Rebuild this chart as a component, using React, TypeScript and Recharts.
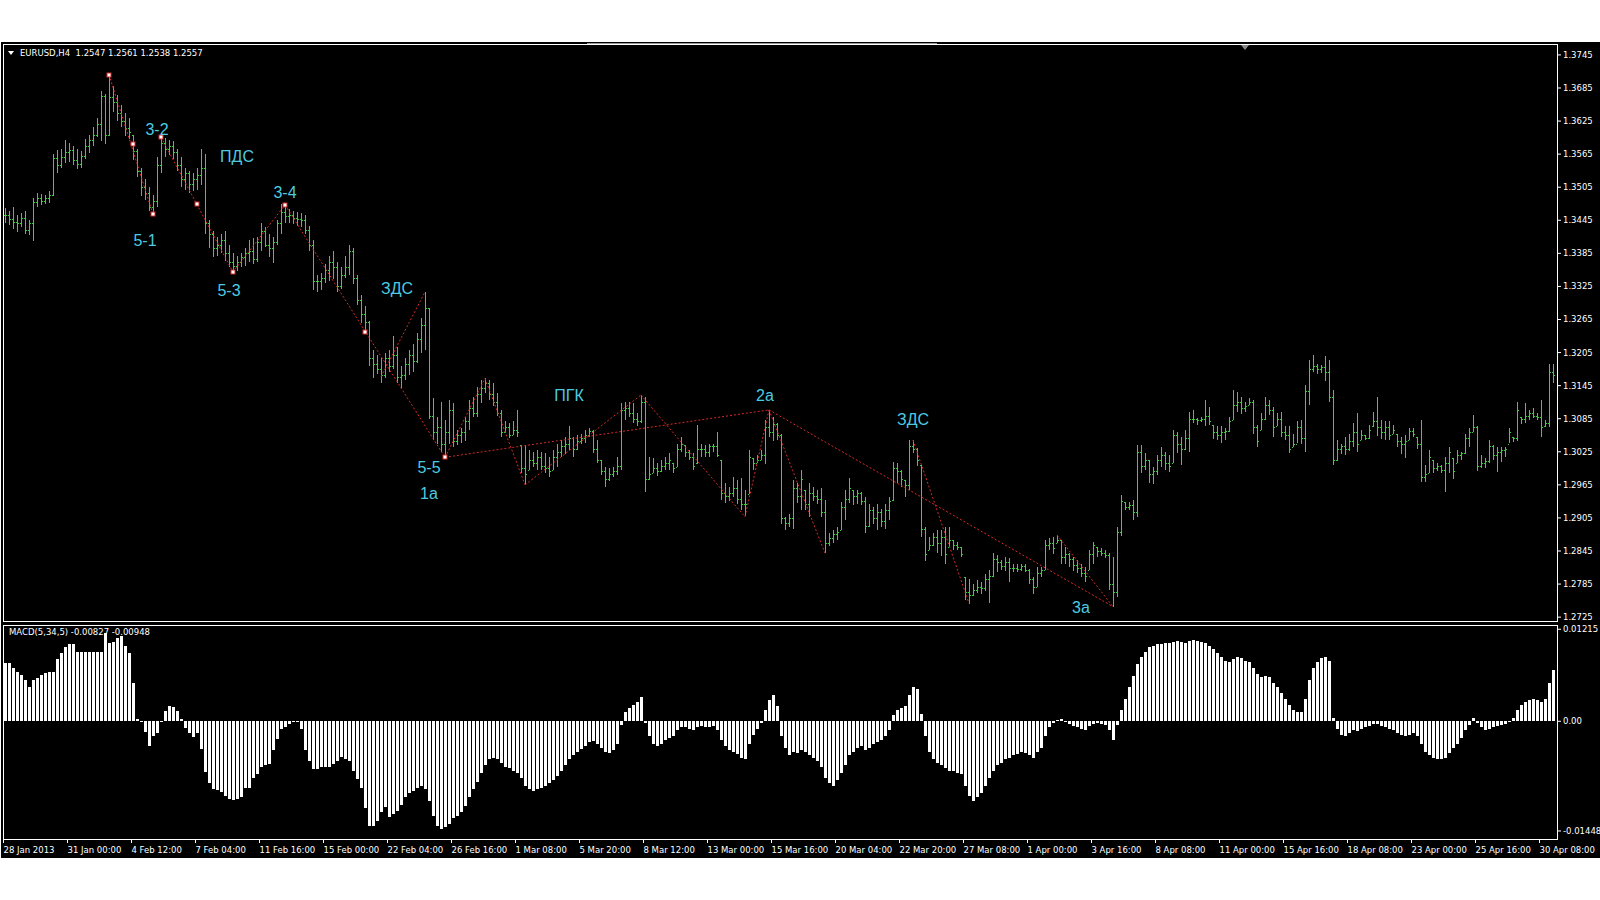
import { ComposedChart, Bar, XAxis, YAxis, ReferenceLine, ReferenceDot } from "recharts";

// EURUSD H4, 28 Jan – 30 Apr 2013, one entry per bar
const HIGHS = [
  1.3468, 1.3462, 1.3470, 1.3455, 1.3458, 1.3462, 1.3445, 1.3486, 1.3495, 1.3492,
  1.3490, 1.3498, 1.3565, 1.3572, 1.3575, 1.3590, 1.3585, 1.3580, 1.3575, 1.3570,
  1.3592, 1.3600, 1.3615, 1.3630, 1.3680, 1.3675, 1.3710, 1.3688, 1.3672, 1.3655,
  1.3640, 1.3630, 1.3600, 1.3575, 1.3540, 1.3520, 1.3505, 1.3490, 1.3560, 1.3598,
  1.3595, 1.3590, 1.3588, 1.3575, 1.3560, 1.3540, 1.3535, 1.3530, 1.3540, 1.3575,
  1.3565, 1.3445, 1.3425, 1.3415, 1.3420, 1.3425, 1.3400, 1.3385, 1.3380, 1.3385,
  1.3395, 1.3410, 1.3412, 1.3415, 1.3440, 1.3432, 1.3420, 1.3415, 1.3445, 1.3475,
  1.3474, 1.3465, 1.3462, 1.3460, 1.3458, 1.3455, 1.3435, 1.3410, 1.3345, 1.3350,
  1.3365, 1.3380, 1.3390, 1.3370, 1.3360, 1.3380, 1.3400, 1.3395, 1.3345, 1.3310,
  1.3290, 1.3262, 1.3210, 1.3200, 1.3195, 1.3205, 1.3210, 1.3235, 1.3215, 1.3180,
  1.3195, 1.3210, 1.3220, 1.3240, 1.3267, 1.3315, 1.3285, 1.3122, 1.3089, 1.3116,
  1.3083, 1.3119, 1.3113, 1.3064, 1.3068, 1.3089, 1.3119, 1.3125, 1.3143, 1.3155,
  1.3158, 1.3155, 1.3149, 1.3131, 1.3101, 1.3080, 1.3077, 1.3080, 1.3101, 1.3037,
  1.3037, 1.3028, 1.3025, 1.3028, 1.3025, 1.3022, 1.3016, 1.3028, 1.3040, 1.3046,
  1.3052, 1.3071, 1.3052, 1.3055, 1.3058, 1.3064, 1.3068, 1.3064, 1.3046, 1.3010,
  1.2998, 1.2995, 1.2998, 1.3016, 1.3113, 1.3116, 1.3116, 1.3113, 1.3095, 1.3128,
  1.3125, 1.3016, 1.3013, 1.3004, 1.3010, 1.3016, 1.3022, 1.3004, 1.3040, 1.3052,
  1.3037, 1.3028, 1.3022, 1.3074, 1.3040, 1.3037, 1.3040, 1.3040, 1.3061, 1.3010,
  1.2968, 1.2962, 1.2980, 1.2974, 1.2977, 1.2955, 1.3028, 1.3013, 1.3019, 1.3028,
  1.3083, 1.3101, 1.3089, 1.3077, 1.3058, 1.2907, 1.2913, 1.2974, 1.2968, 1.2992,
  1.2956, 1.2968, 1.2962, 1.2956, 1.2959, 1.2937, 1.2877, 1.2883, 1.2889, 1.2934,
  1.2956, 1.2977, 1.2956, 1.2956, 1.2952, 1.2943, 1.2931, 1.2925, 1.2931, 1.2922,
  1.2931, 1.2943, 1.3007, 1.3004, 1.2992, 1.2974, 1.3046, 1.3046, 1.3031, 1.3001,
  1.2889, 1.2871, 1.2877, 1.2883, 1.2883, 1.2889, 1.2889, 1.2865, 1.2862, 1.2853,
  1.2798, 1.2795, 1.2786, 1.2792, 1.2789, 1.2804, 1.2810, 1.2841, 1.2838, 1.2828,
  1.2835, 1.2832, 1.2822, 1.2822, 1.2822, 1.2822, 1.2813, 1.2798, 1.2816, 1.2816,
  1.2865, 1.2868, 1.2871, 1.2874, 1.2865, 1.2853, 1.2841, 1.2835, 1.2828, 1.2822,
  1.2816, 1.2847, 1.2862, 1.2853, 1.2850, 1.2847, 1.2841, 1.2835, 1.2889, 1.2946,
  1.2934, 1.2934, 1.2937, 1.3037, 1.3037, 1.3022, 1.3010, 1.2998, 1.3019, 1.3034,
  1.3025, 1.3019, 1.3064, 1.3061, 1.3052, 1.3064, 1.3098, 1.3101, 1.3086, 1.3089,
  1.3119, 1.3107, 1.3074, 1.3071, 1.3071, 1.3068, 1.3089, 1.3137, 1.3134, 1.3125,
  1.3116, 1.3122, 1.3119, 1.3074, 1.3095, 1.3125, 1.3119, 1.3107, 1.3095, 1.3098,
  1.3071, 1.3071, 1.3058, 1.3080, 1.3083, 1.3146, 1.3192, 1.3201, 1.3185, 1.3182,
  1.3198, 1.3192, 1.3137, 1.3046, 1.3040, 1.3052, 1.3058, 1.3077, 1.3095, 1.3064,
  1.3055, 1.3074, 1.3098, 1.3125, 1.3083, 1.3080, 1.3080, 1.3074, 1.3058, 1.3052,
  1.3055, 1.3068, 1.3068, 1.3052, 1.3083, 1.3001, 1.3028, 1.3010, 1.3004, 1.3001,
  1.3016, 1.3034, 1.3013, 1.3028, 1.3025, 1.3058, 1.3068, 1.3092, 1.3071, 1.3019,
  1.3013, 1.3046, 1.3037, 1.3034, 1.3034, 1.3034, 1.3068, 1.3052, 1.3116, 1.3089,
  1.3113, 1.3101, 1.3104, 1.3095, 1.3119, 1.3083, 1.3185, 1.3185,
];

const LOWS = [
  1.3440, 1.3436, 1.3430, 1.3425, 1.3432, 1.3420, 1.3418, 1.3408, 1.3470, 1.3472,
  1.3474, 1.3476, 1.3488, 1.3530, 1.3540, 1.3548, 1.3550, 1.3545, 1.3538, 1.3540,
  1.3555, 1.3568, 1.3580, 1.3595, 1.3590, 1.3585, 1.3598, 1.3640, 1.3625, 1.3615,
  1.3598, 1.3592, 1.3555, 1.3525, 1.3490, 1.3482, 1.3462, 1.3455, 1.3470, 1.3530,
  1.3560, 1.3562, 1.3555, 1.3535, 1.3505, 1.3500, 1.3495, 1.3498, 1.3500, 1.3510,
  1.3420, 1.3395, 1.3378, 1.3380, 1.3385, 1.3370, 1.3360, 1.3350, 1.3352, 1.3360,
  1.3362, 1.3370, 1.3365, 1.3370, 1.3390, 1.3395, 1.3378, 1.3368, 1.3400, 1.3420,
  1.3440, 1.3440, 1.3438, 1.3435, 1.3432, 1.3420, 1.3390, 1.3320, 1.3315, 1.3320,
  1.3330, 1.3335, 1.3340, 1.3315, 1.3320, 1.3340, 1.3345, 1.3330, 1.3290, 1.3260,
  1.3240, 1.3180, 1.3160, 1.3165, 1.3150, 1.3160, 1.3170, 1.3175, 1.3150, 1.3140,
  1.3155, 1.3165, 1.3170, 1.3185, 1.3204, 1.3210, 1.3083, 1.3046, 1.3040, 1.3025,
  1.3016, 1.3040, 1.3034, 1.3037, 1.3040, 1.3046, 1.3064, 1.3089, 1.3089, 1.3113,
  1.3131, 1.3119, 1.3107, 1.3089, 1.3052, 1.3058, 1.3049, 1.3055, 1.3052, 1.2986,
  1.2965, 1.2992, 1.2998, 1.2992, 1.2992, 1.2986, 1.2980, 1.2992, 1.2998, 1.3016,
  1.3022, 1.3028, 1.3016, 1.3028, 1.3040, 1.3040, 1.3052, 1.3022, 1.3004, 1.2983,
  1.2962, 1.2971, 1.2980, 1.2983, 1.2992, 1.3083, 1.3089, 1.3077, 1.3071, 1.3077,
  1.2952, 1.2974, 1.2986, 1.2980, 1.2989, 1.2992, 1.2992, 1.2986, 1.2998, 1.3025,
  1.3016, 1.3010, 1.2992, 1.3004, 1.3016, 1.3016, 1.3016, 1.3025, 1.3016, 1.2937,
  1.2931, 1.2937, 1.2943, 1.2931, 1.2919, 1.2907, 1.2949, 1.2992, 1.3004, 1.3010,
  1.3004, 1.3052, 1.3046, 1.3046, 1.2895, 1.2883, 1.2889, 1.2886, 1.2931, 1.2919,
  1.2919, 1.2907, 1.2937, 1.2931, 1.2907, 1.2841, 1.2853, 1.2859, 1.2865, 1.2883,
  1.2901, 1.2931, 1.2928, 1.2931, 1.2928, 1.2877, 1.2889, 1.2895, 1.2883, 1.2889,
  1.2886, 1.2901, 1.2937, 1.2968, 1.2962, 1.2943, 1.2956, 1.3022, 1.2998, 1.2871,
  1.2828, 1.2847, 1.2853, 1.2841, 1.2835, 1.2822, 1.2853, 1.2847, 1.2847, 1.2835,
  1.2756, 1.2750, 1.2765, 1.2768, 1.2768, 1.2774, 1.2750, 1.2798, 1.2807, 1.2810,
  1.2810, 1.2789, 1.2807, 1.2807, 1.2810, 1.2807, 1.2786, 1.2768, 1.2780, 1.2798,
  1.2810, 1.2847, 1.2841, 1.2859, 1.2822, 1.2822, 1.2816, 1.2810, 1.2804, 1.2798,
  1.2789, 1.2810, 1.2822, 1.2835, 1.2835, 1.2832, 1.2774, 1.2744, 1.2762, 1.2871,
  1.2919, 1.2919, 1.2901, 1.2907, 1.2986, 1.2992, 1.2968, 1.2968, 1.2983, 1.2998,
  1.2992, 1.2989, 1.3004, 1.3022, 1.3001, 1.3028, 1.3025, 1.3077, 1.3074, 1.3080,
  1.3071, 1.3074, 1.3049, 1.3046, 1.3040, 1.3046, 1.3061, 1.3083, 1.3098, 1.3095,
  1.3098, 1.3110, 1.3058, 1.3034, 1.3064, 1.3083, 1.3092, 1.3052, 1.3071, 1.3052,
  1.3046, 1.3022, 1.3034, 1.3040, 1.3040, 1.3025, 1.3110, 1.3170, 1.3167, 1.3167,
  1.3152, 1.3116, 1.3001, 1.3007, 1.3022, 1.3019, 1.3028, 1.3034, 1.3025, 1.3046,
  1.3046, 1.3049, 1.3071, 1.3055, 1.3049, 1.3046, 1.3046, 1.3058, 1.3034, 1.3022,
  1.3013, 1.3046, 1.3052, 1.3031, 1.2971, 1.2971, 1.2986, 1.2986, 1.2989, 1.2986,
  1.2953, 1.2986, 1.2974, 1.3004, 1.3010, 1.3022, 1.3034, 1.3061, 1.2989, 1.2995,
  1.2995, 1.3004, 1.3010, 1.2989, 1.3007, 1.3016, 1.3040, 1.3043, 1.3046, 1.3077,
  1.3077, 1.3083, 1.3086, 1.3083, 1.3052, 1.3071, 1.3071, 1.3150,
];

const CLOSES = [
  1.3455, 1.3448, 1.3442, 1.3440, 1.3450, 1.3428, 1.3440, 1.3478, 1.3485, 1.3480,
  1.3486, 1.3490, 1.3558, 1.3545, 1.3560, 1.3568, 1.3572, 1.3555, 1.3548, 1.3562,
  1.3580, 1.3590, 1.3600, 1.3620, 1.3670, 1.3600, 1.3668, 1.3660, 1.3640, 1.3625,
  1.3612, 1.3605, 1.3570, 1.3535, 1.3505, 1.3495, 1.3470, 1.3480, 1.3545, 1.3585,
  1.3575, 1.3580, 1.3568, 1.3545, 1.3520, 1.3530, 1.3510, 1.3520, 1.3528, 1.3540,
  1.3440, 1.3420, 1.3395, 1.3400, 1.3410, 1.3385, 1.3370, 1.3362, 1.3370, 1.3378,
  1.3385, 1.3390, 1.3375, 1.3405, 1.3425, 1.3400, 1.3395, 1.3405, 1.3440, 1.3460,
  1.3452, 1.3455, 1.3450, 1.3448, 1.3445, 1.3428, 1.3400, 1.3335, 1.3335, 1.3340,
  1.3355, 1.3370, 1.3360, 1.3325, 1.3345, 1.3360, 1.3390, 1.3340, 1.3300, 1.3275,
  1.3260, 1.3195, 1.3185, 1.3175, 1.3165, 1.3195, 1.3180, 1.3200, 1.3160, 1.3165,
  1.3185, 1.3200, 1.3190, 1.3230, 1.3255, 1.3285, 1.3090, 1.3060, 1.3070, 1.3040,
  1.3060, 1.3100, 1.3045, 1.3055, 1.3060, 1.3080, 1.3105, 1.3095, 1.3130, 1.3140,
  1.3150, 1.3130, 1.3115, 1.3095, 1.3060, 1.3070, 1.3055, 1.3065, 1.3060, 1.2995,
  1.2985, 1.3010, 1.3005, 1.3015, 1.3000, 1.2995, 1.2990, 1.3015, 1.3025, 1.3035,
  1.3040, 1.3050, 1.3030, 1.3045, 1.3050, 1.3055, 1.3062, 1.3030, 1.3010, 1.2990,
  1.2975, 1.2985, 1.2990, 1.3000, 1.3100, 1.3105, 1.3095, 1.3085, 1.3080, 1.3115,
  1.2975, 1.2985, 1.2995, 1.2990, 1.3000, 1.3005, 1.3010, 1.2995, 1.3030, 1.3040,
  1.3025, 1.3015, 1.3000, 1.3030, 1.3030, 1.3025, 1.3035, 1.3035, 1.3020, 1.2950,
  1.2945, 1.2950, 1.2960, 1.2940, 1.2930, 1.2930, 1.3015, 1.3005, 1.3010, 1.3020,
  1.3070, 1.3060, 1.3075, 1.3055, 1.2905, 1.2895, 1.2905, 1.2960, 1.2945, 1.2975,
  1.2930, 1.2950, 1.2945, 1.2940, 1.2915, 1.2860, 1.2868, 1.2875, 1.2880, 1.2925,
  1.2940, 1.2960, 1.2945, 1.2950, 1.2935, 1.2890, 1.2920, 1.2905, 1.2915, 1.2900,
  1.2920, 1.2935, 1.2995, 1.2990, 1.2975, 1.2965, 1.3035, 1.3030, 1.3010, 1.2885,
  1.2840, 1.2855, 1.2870, 1.2860, 1.2870, 1.2840, 1.2865, 1.2855, 1.2852, 1.2840,
  1.2770, 1.2765, 1.2775, 1.2780, 1.2778, 1.2795, 1.2800, 1.2830, 1.2825, 1.2818,
  1.2825, 1.2815, 1.2815, 1.2812, 1.2818, 1.2810, 1.2795, 1.2780, 1.2805, 1.2810,
  1.2855, 1.2860, 1.2850, 1.2865, 1.2835, 1.2840, 1.2830, 1.2820, 1.2815, 1.2805,
  1.2800, 1.2840, 1.2855, 1.2845, 1.2842, 1.2838, 1.2785, 1.2770, 1.2880, 1.2935,
  1.2925, 1.2928, 1.2915, 1.3025, 1.3000, 1.3010, 1.2985, 1.2990, 1.3010, 1.3020,
  1.3005, 1.3000, 1.3055, 1.3040, 1.3030, 1.3050, 1.3085, 1.3085, 1.3082, 1.3085,
  1.3090, 1.3080, 1.3060, 1.3055, 1.3060, 1.3062, 1.3080, 1.3110, 1.3115, 1.3105,
  1.3108, 1.3115, 1.3070, 1.3045, 1.3085, 1.3110, 1.3100, 1.3070, 1.3085, 1.3060,
  1.3055, 1.3030, 1.3040, 1.3070, 1.3050, 1.3135, 1.3175, 1.3180, 1.3175, 1.3178,
  1.3170, 1.3125, 1.3010, 1.3030, 1.3035, 1.3030, 1.3045, 1.3060, 1.3040, 1.3055,
  1.3050, 1.3065, 1.3080, 1.3070, 1.3060, 1.3070, 1.3055, 1.3065, 1.3045, 1.3040,
  1.3045, 1.3062, 1.3058, 1.3040, 1.2980, 1.2985, 1.3015, 1.2995, 1.3000, 1.2992,
  1.3005, 1.3025, 1.2990, 1.3020, 1.3022, 1.3050, 1.3060, 1.3070, 1.3000, 1.3005,
  1.3008, 1.3035, 1.3020, 1.3025, 1.3028, 1.3030, 1.3060, 1.3050, 1.3100, 1.3085,
  1.3090, 1.3095, 1.3090, 1.3088, 1.3070, 1.3078, 1.3170, 1.3165,
];

// MACD(5,34,5) histogram
const MACD = [
  0.0077, 0.0077, 0.0070, 0.0065, 0.0061, 0.0054, 0.0045, 0.0054, 0.0057, 0.0061,
  0.0064, 0.0065, 0.0065, 0.0082, 0.0090, 0.0098, 0.0102, 0.0102, 0.0091, 0.0091,
  0.0091, 0.0091, 0.0091, 0.0091, 0.0091, 0.0116, 0.0103, 0.0105, 0.0110, 0.0112,
  0.0099, 0.0090, 0.0050, 0.0003, 0.0001, -0.0014, -0.0033, -0.0020, -0.0015, 0.0001,
  0.0014, 0.0020, 0.0019, 0.0013, 0.0003, -0.0009, -0.0016, -0.0021, -0.0015, -0.0036,
  -0.0067, -0.0082, -0.0089, -0.0091, -0.0093, -0.0098, -0.0102, -0.0104, -0.0102, -0.0100,
  -0.0088, -0.0088, -0.0075, -0.0070, -0.0061, -0.0058, -0.0057, -0.0038, -0.0023, -0.0010,
  -0.0007, -0.0004, -0.0001, 0.0001, -0.0010, -0.0038, -0.0052, -0.0063, -0.0063, -0.0061,
  -0.0061, -0.0061, -0.0057, -0.0052, -0.0047, -0.0050, -0.0052, -0.0065, -0.0076, -0.0088,
  -0.0115, -0.0138, -0.0138, -0.0131, -0.0120, -0.0113, -0.0126, -0.0122, -0.0118, -0.0110,
  -0.0100, -0.0095, -0.0092, -0.0088, -0.0085, -0.0090, -0.0105, -0.0125, -0.0138, -0.0142,
  -0.0140, -0.0135, -0.0128, -0.0125, -0.0120, -0.0112, -0.0100, -0.0090, -0.0080, -0.0068,
  -0.0058, -0.0050, -0.0048, -0.0050, -0.0055, -0.0060, -0.0062, -0.0065, -0.0068, -0.0075,
  -0.0085, -0.0090, -0.0092, -0.0090, -0.0088, -0.0085, -0.0082, -0.0078, -0.0072, -0.0065,
  -0.0058, -0.0050, -0.0045, -0.0040, -0.0036, -0.0032, -0.0028, -0.0026, -0.0030, -0.0035,
  -0.0040, -0.0042, -0.0038, -0.0030, -0.0005, 0.0012, 0.0018, 0.0022, 0.0025, 0.0032,
  -0.0002, -0.0020, -0.0030, -0.0033, -0.0030, -0.0025, -0.0022, -0.0020, -0.0012, -0.0008,
  -0.0007, -0.0010, -0.0012, -0.0008, -0.0006, -0.0008, -0.0007, -0.0006, -0.0012, -0.0025,
  -0.0033, -0.0038, -0.0040, -0.0043, -0.0048, -0.0050, -0.0030, -0.0018, -0.0010, -0.0002,
  0.0015, 0.0028, 0.0035, 0.0020, -0.0020, -0.0035, -0.0045, -0.0040, -0.0042, -0.0038,
  -0.0040, -0.0045, -0.0048, -0.0052, -0.0060, -0.0075, -0.0082, -0.0085, -0.0078, -0.0068,
  -0.0058, -0.0045, -0.0040, -0.0035, -0.0033, -0.0038, -0.0035, -0.0030, -0.0028, -0.0025,
  -0.0020, -0.0012, 0.0008, 0.0015, 0.0018, 0.0020, 0.0035, 0.0045, 0.0042, 0.0010,
  -0.0020, -0.0040, -0.0050, -0.0055, -0.0058, -0.0062, -0.0065, -0.0066, -0.0068, -0.0070,
  -0.0085, -0.0098, -0.0105, -0.0100, -0.0095, -0.0085, -0.0075, -0.0065, -0.0058, -0.0055,
  -0.0050, -0.0048, -0.0045, -0.0043, -0.0040, -0.0042, -0.0045, -0.0048, -0.0040, -0.0035,
  -0.0020, -0.0008, -0.0002, 0.0002, 0.0003, 0.0001, -0.0003, -0.0006, -0.0008, -0.0010,
  -0.0012, -0.0006, -0.0003, -0.0002, -0.0003, -0.0005, -0.0012, -0.0025, -0.0005, 0.0015,
  0.0030, 0.0045, 0.0060, 0.0075, 0.0085, 0.0092, 0.0098, 0.0100, 0.0102, 0.0102,
  0.0104, 0.0104, 0.0105, 0.0106, 0.0105, 0.0104, 0.0106, 0.0107, 0.0106, 0.0105,
  0.0103, 0.0100, 0.0095, 0.0090, 0.0085, 0.0080, 0.0078, 0.0082, 0.0085, 0.0083,
  0.0080, 0.0078, 0.0070, 0.0062, 0.0058, 0.0060, 0.0058, 0.0050, 0.0045, 0.0038,
  0.0030, 0.0022, 0.0015, 0.0012, 0.0012, 0.0030, 0.0055, 0.0070, 0.0078, 0.0083,
  0.0085, 0.0080, 0.0005, -0.0010, -0.0018, -0.0020, -0.0016, -0.0012, -0.0013, -0.0010,
  -0.0008, -0.0006, -0.0004, -0.0003, -0.0006, -0.0008, -0.0010, -0.0012, -0.0015, -0.0018,
  -0.0020, -0.0018, -0.0015, -0.0020, -0.0030, -0.0040, -0.0045, -0.0048, -0.0050, -0.0050,
  -0.0048, -0.0042, -0.0035, -0.0030, -0.0022, -0.0012, -0.0005, 0.0005, -0.0002, -0.0008,
  -0.0012, -0.0010, -0.0008, -0.0006, -0.0005, -0.0003, 0.0001, 0.0005, 0.0015, 0.0022,
  0.0025, 0.0028, 0.0030, 0.0028, 0.0025, 0.0030, 0.0050, 0.0068,
];

// one time label every 16 bars
const DATE_LABELS = [
  "28 Jan 2013", "31 Jan 00:00", "4 Feb 12:00", "7 Feb 04:00", "11 Feb 16:00",
  "15 Feb 00:00", "22 Feb 04:00", "26 Feb 16:00", "1 Mar 08:00", "5 Mar 20:00",
  "8 Mar 12:00", "13 Mar 00:00", "15 Mar 16:00", "20 Mar 04:00", "22 Mar 20:00",
  "27 Mar 08:00", "1 Apr 00:00", "3 Apr 16:00", "8 Apr 08:00", "11 Apr 00:00",
  "15 Apr 16:00", "18 Apr 08:00", "23 Apr 00:00", "25 Apr 16:00", "30 Apr 08:00",
];
const LABEL_STEP = 16;

const PRICE_TICKS = [
  1.3745, 1.3685, 1.3625, 1.3565, 1.3505, 1.3445, 1.3385, 1.3325, 1.3265,
  1.3205, 1.3145, 1.3085, 1.3025, 1.2965, 1.2905, 1.2845, 1.2785, 1.2725,
];
const MACD_TICKS = [0.01215, 0, -0.01448];

// wave markup: [barFrom, priceFrom, barTo, priceTo]
const WAVE_LINES: [number, number, number, number][] = [
  [26, 1.3709, 37, 1.3456],
  [39, 1.3596, 57, 1.3351],
  [57, 1.3351, 70, 1.3473],
  [70, 1.3473, 110, 1.3015],
  [94, 1.3161, 105, 1.3315],
  [110, 1.3015, 191, 1.3101],
  [110, 1.3015, 120, 1.3158],
  [120, 1.3158, 130, 1.2965],
  [130, 1.2965, 159, 1.3128],
  [159, 1.3128, 185, 1.2907],
  [185, 1.2907, 191, 1.3101],
  [191, 1.3101, 205, 1.2841],
  [191, 1.3101, 277, 1.2744],
  [227, 1.3046, 241, 1.2750],
  [263, 1.2874, 277, 1.2744],
];
const WAVE_POINTS: [number, number][] = [
  [26, 1.3709], [32, 1.3583], [37, 1.3456], [39, 1.3596], [48, 1.3474],
  [57, 1.3351], [70, 1.3473], [90, 1.3243], [110, 1.3015],
];
const WAVE_LABELS: [number, number, string][] = [
  [38, 1.3609, "3-2"], [58, 1.3560, "ПДС"], [70, 1.3495, "3-4"], [35, 1.3409, "5-1"],
  [56, 1.3318, "5-3"], [98, 1.3322, "ЗДС"], [141, 1.3128, "ПГК"], [190, 1.3128, "2а"],
  [227, 1.3083, "ЗДС"], [106, 1.2996, "5-5"], [106, 1.2950, "1а"], [269, 1.2743, "3а"],
];

const data = HIGHS.map((high, i) => ({
  i,
  high,
  low: LOWS[i],
  close: CLOSES[i],
  open: i > 0 ? CLOSES[i - 1] : CLOSES[0],
  range: [LOWS[i], high],
  macd: MACD[i],
}));

const GREEN = "#44cc44";
const RED = "#d42a2a";
const CYAN = "#4ccbe0";
const SMALL = { fontFamily: "DejaVu Sans", fontSize: 8.5, fill: "#fff" };

const OhlcBar = (props: any) => {
  const { x, y, width, height, payload } = props;
  if (height == null || isNaN(height)) return null;
  const cx = Math.floor(x + width / 2);
  const { high, low } = payload;
  const span = high - low || 1e-9;
  const toY = (p: number) => y + ((high - Math.min(high, Math.max(low, p))) / span) * height;
  return (
    <g fill={GREEN}>
      <rect x={cx} y={Math.round(y)} width={1} height={Math.max(1, Math.round(height))} />
      <rect x={cx - 1} y={Math.round(toY(payload.open))} width={1} height={1} />
      <rect x={cx + 1} y={Math.round(toY(payload.close))} width={1} height={1} />
    </g>
  );
};

const HistBar = (props: any) => {
  const { x, y, height } = props;
  if (!height) return null;
  const top = Math.round(Math.min(y, y + height));
  const bottom = Math.round(Math.max(y, y + height));
  return <rect x={Math.round(x) + 1} y={top} width={3} height={Math.max(1, bottom - top)} fill="#fff" />;
};

const AXIS_X = 1557;

const PriceTick = (props: any) => {
  const { y, payload } = props;
  return (
    <g>
      <line x1={AXIS_X} x2={AXIS_X + 4} y1={y} y2={y} stroke="#fff" />
      <text x={AXIS_X + 6} y={y + 3} {...SMALL}>{payload.value.toFixed(4)}</text>
    </g>
  );
};

const MacdTick = (props: any) => {
  const { y, payload } = props;
  const v = payload.value;
  return (
    <g>
      <line x1={AXIS_X} x2={AXIS_X + 4} y1={y} y2={y} stroke="#fff" />
      <text x={AXIS_X + 6} y={y + 3} {...SMALL}>{v === 0 ? "0.00" : v.toFixed(5)}</text>
    </g>
  );
};

const DateTick = (props: any) => {
  const { x, y, payload } = props;
  const label = DATE_LABELS[payload.value / LABEL_STEP];
  const tx = Math.round(x) - 1.5;
  return (
    <g>
      <line x1={tx} x2={tx} y1={y - 8} y2={y - 4} stroke="#fff" />
      <text x={tx} y={y + 6} {...SMALL}>{label}</text>
    </g>
  );
};

const dateTicks = DATE_LABELS.map((_, k) => k * LABEL_STEP);

export default function App() {
  return (
    <div style={{ position: "fixed", left: 0, top: 0, width: 1600, height: 900, background: "#fff", overflow: "hidden" }}>
      <div style={{ position: "absolute", left: 1, top: 42, width: 1599, height: 816, background: "#000" }} />
      <div style={{ position: "absolute", left: 3, top: 44, width: 1555, height: 578, border: "1px solid #fff", boxSizing: "border-box" }} />
      <div style={{ position: "absolute", left: 3, top: 625, width: 1555, height: 215, border: "1px solid #fff", boxSizing: "border-box" }} />
      <svg style={{ position: "absolute", left: 0, top: 0 }} width={1600} height={60}>
        <line x1={587} x2={937} y1={43.5} y2={43.5} stroke="#999" />
        <polygon points="1241,45 1249,45 1245,50" fill="#888" />
        <polygon points="8,51 14,51 11,55" fill="#fff" />
      </svg>
      <div style={{ position: "absolute", left: 20, top: 48, color: "#fff", fontFamily: "DejaVu Sans", fontSize: 8.5, whiteSpace: "pre" }}>
        {"EURUSD,H4  1.2547 1.2561 1.2538 1.2557"}
      </div>
      <div style={{ position: "absolute", left: 9, top: 627, color: "#fff", fontFamily: "DejaVu Sans", fontSize: 8.5, whiteSpace: "pre" }}>
        {"MACD(5,34,5) -0.00827 -0.00948"}
      </div>

      <div style={{ position: "absolute", left: 0, top: 0 }}>
        <ComposedChart width={1600} height={900} data={data} margin={{ top: 45, right: 0, bottom: 279, left: 3 }} barCategoryGap={0} barGap={0}>
          <XAxis dataKey="i" hide />
          <YAxis orientation="right" width={45} domain={[1.2718, 1.3763]} allowDataOverflow ticks={PRICE_TICKS} interval={0} axisLine={false} tickLine={false} tick={<PriceTick />} />
          <Bar dataKey="range" shape={<OhlcBar />} isAnimationActive={false} />
          {WAVE_LINES.map(([b1, p1, b2, p2], k) => (
            <ReferenceLine key={`l${k}`} segment={[{ x: b1, y: p1 }, { x: b2, y: p2 }]} stroke={RED} strokeDasharray="2 2" ifOverflow="visible" />
          ))}
          {WAVE_POINTS.map(([b, p], k) => (
            <ReferenceDot key={`p${k}`} x={b} y={p} r={2} ifOverflow="visible"
              shape={(s: any) => <rect x={Math.round(s.cx) - 2} y={Math.round(s.cy) - 2} width={4} height={4} fill="#fff" stroke={RED} strokeWidth={1} />} />
          ))}
          {WAVE_LABELS.map(([b, p, t], k) => (
            <ReferenceDot key={`t${k}`} x={b} y={p} r={1} ifOverflow="visible"
              shape={(s: any) => (
                <text x={s.cx} y={s.cy + 5.5} textAnchor="middle" fill={CYAN} fontFamily="Liberation Sans" fontSize={16}>{t}</text>
              )} />
          ))}
        </ComposedChart>
      </div>

      <div style={{ position: "absolute", left: 0, top: 0 }}>
        <ComposedChart width={1600} height={900} data={data} margin={{ top: 626, right: 0, bottom: 43, left: 3 }} barCategoryGap={0} barGap={0}>
          <XAxis dataKey="i" ticks={dateTicks} interval={0} height={18} axisLine={false} tickLine={false} tick={<DateTick />} />
          <YAxis orientation="right" width={45} domain={[-0.01554, 0.01258]} allowDataOverflow ticks={MACD_TICKS} interval={0} axisLine={false} tickLine={false} tick={<MacdTick />} />
          <Bar dataKey="macd" shape={<HistBar />} isAnimationActive={false} />
        </ComposedChart>
      </div>
    </div>
  );
}
